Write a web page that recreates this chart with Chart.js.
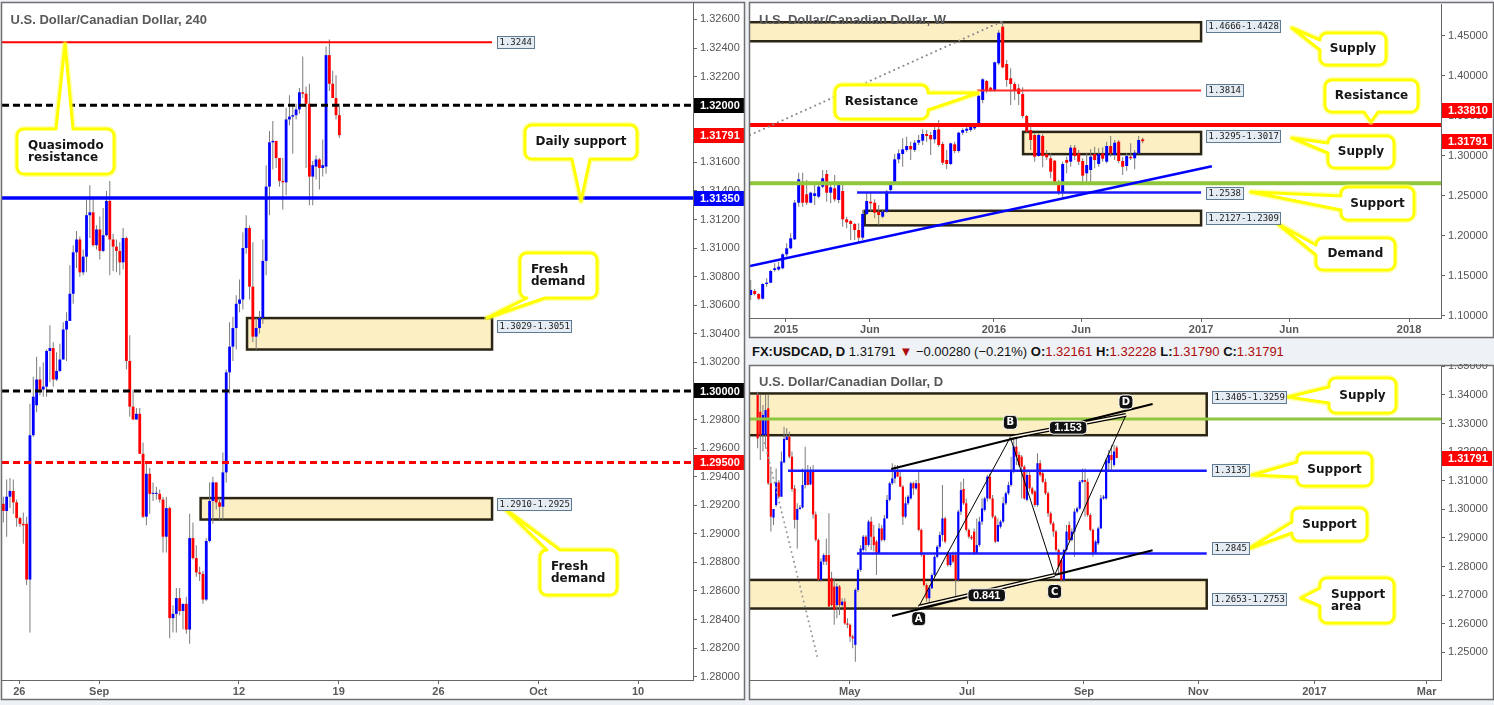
<!DOCTYPE html>
<html><head><meta charset="utf-8">
<script src="https://cdn.jsdelivr.net/npm/chart.js@4.4.1/dist/chart.umd.min.js"></script>
<style>
html,body{margin:0;padding:0;background:#eef1f5;width:1494px;height:705px;overflow:hidden;}
canvas{position:absolute;}
#hdr{position:absolute;left:752px;top:343px;font:13px "Liberation Sans",Arial,sans-serif;color:#111;white-space:nowrap;line-height:17px;}
#hdr b{font-weight:bold}
#hdr .r{color:#ad0b0b}
</style></head><body>
<canvas id="c4h" width="746" height="701" style="left:0;top:0"></canvas>
<canvas id="cw" width="746" height="340" style="left:748px;top:0"></canvas>
<canvas id="cd" width="746" height="338" style="left:748px;top:364px"></canvas>
<div id="hdr"><b>FX:USDCAD, D</b> 1.31791 <span class="r">▼</span> −0.00280 (−0.21%) <b>O:</b><span class="r">1.32161</span> <b>H:</b><span class="r">1.32228</span> <b>L:</b><span class="r">1.31790</span> <b>C:</b><span class="r">1.31791</span></div>
<script>
// ---------- 4H data ----------
const h4Open = [
1.2921,1.2916,1.2926,1.2930,1.2922,1.2911,1.2907,1.2907,1.2868,1.2969,
1.2990,1.3008,1.3001,1.3003,1.3028,1.3030,1.3008,1.3014,1.3022,1.3043,
1.3049,1.3068,1.3097,1.3106,1.3083,1.3094,1.3123,1.3125,1.3102,1.3113,
1.3098,1.3109,1.3133,1.3106,1.3101,1.3098,1.3090,1.3107,1.3021,1.2989,
1.2980,1.2984,1.2956,1.2912,1.2942,1.2928,1.2928,1.2928,1.2924,1.2898,
1.2918,1.2841,1.2844,1.2855,1.2846,1.2851,1.2833,1.2897,1.2883,1.2873,
1.2872,1.2854,1.2895,1.2923,1.2936,1.2922,1.2919,1.2943,1.3013,1.3031,
1.3044,1.3061,1.3064,1.3100,1.3114,1.3073,1.3038,1.3044,1.3051,1.3091,
1.3143,1.3174,1.3175,1.3163,1.3147,1.3146,1.3190,1.3192,1.3193,1.3197,
1.3209,1.3208,1.3201,1.3150,1.3157,1.3162,1.3156,1.3157,1.3235,1.3215,
1.3205,1.3193];
const h4High = [
1.2926,1.2938,1.2939,1.2938,1.2924,1.2912,1.2915,1.2912,1.2991,1.3010,
1.3024,1.3017,1.3020,1.3029,1.3046,1.3034,1.3027,1.3033,1.3048,1.3055,
1.3088,1.3102,1.3112,1.3108,1.3099,1.3134,1.3144,1.3135,1.3116,1.3122,
1.3128,1.3140,1.3147,1.3110,1.3106,1.3104,1.3114,1.3108,1.3039,1.3001,
1.2988,1.2988,1.2964,1.2950,1.2946,1.2936,1.2933,1.2931,1.2926,1.2926,
1.2919,1.2850,1.2862,1.2862,1.2851,1.2856,1.2914,1.2908,1.2892,1.2877,
1.2874,1.2897,1.2936,1.2940,1.2936,1.2925,1.2957,1.3015,1.3048,1.3052,
1.3067,1.3078,1.3111,1.3123,1.3116,1.3104,1.3051,1.3056,1.3106,1.3158,
1.3182,1.3189,1.3175,1.3163,1.3163,1.3198,1.3207,1.3201,1.3201,1.3212,
1.3234,1.3213,1.3215,1.3161,1.3165,1.3163,1.3176,1.3241,1.3246,1.3224,
1.3221,1.3201];
const h4Low = [
1.2908,1.2898,1.2918,1.2914,1.2905,1.2905,1.2893,1.2864,1.2831,1.2968,
1.2985,1.2997,1.2996,1.2996,1.3006,1.3003,1.3007,1.3013,1.3022,1.3021,
1.3049,1.3061,1.3086,1.3080,1.3081,1.3083,1.3107,1.3101,1.3099,1.3092,
1.3097,1.3108,1.3081,1.3084,1.3083,1.3081,1.3085,1.3015,1.2982,1.2980,
1.2980,1.2956,1.2911,1.2906,1.2914,1.2923,1.2924,1.2922,1.2887,1.2887,
1.2827,1.2831,1.2831,1.2843,1.2833,1.2830,1.2823,1.2882,1.2870,1.2867,
1.2851,1.2853,1.2894,1.2907,1.2917,1.2910,1.2910,1.2936,1.2998,1.3021,
1.3029,1.3055,1.3057,1.3096,1.3064,1.3034,1.3029,1.3040,1.3047,1.3081,
1.3123,1.3155,1.3156,1.3143,1.3127,1.3137,1.3186,1.3166,1.3190,1.3194,
1.3205,1.3156,1.3130,1.3130,1.3148,1.3141,1.3150,1.3152,1.3210,1.3205,
1.3190,1.3177];
const h4Close = [
1.2916,1.2926,1.2930,1.2922,1.2911,1.2907,1.2906,1.2868,1.2969,1.2996,
1.3008,1.3001,1.3003,1.3028,1.3030,1.3008,1.3014,1.3022,1.3043,1.3049,
1.3068,1.3097,1.3106,1.3083,1.3094,1.3123,1.3125,1.3102,1.3113,1.3098,
1.3109,1.3133,1.3106,1.3101,1.3098,1.3090,1.3107,1.3021,1.2989,1.2980,
1.2984,1.2956,1.2912,1.2942,1.2928,1.2928,1.2928,1.2924,1.2898,1.2918,
1.2841,1.2844,1.2855,1.2846,1.2851,1.2833,1.2897,1.2883,1.2873,1.2872,
1.2854,1.2895,1.2923,1.2936,1.2922,1.2919,1.2943,1.3013,1.3031,1.3044,
1.3061,1.3064,1.3100,1.3114,1.3073,1.3038,1.3044,1.3051,1.3091,1.3143,
1.3174,1.3175,1.3163,1.3147,1.3146,1.3190,1.3192,1.3193,1.3197,1.3209,
1.3208,1.3201,1.3150,1.3158,1.3162,1.3156,1.3158,1.3235,1.3215,1.3205,
1.3193,1.3179];
const h4XTicks = [5.8, 29.8, 71.8, 101.8, 131.8, 161.8, 191.8];
const h4XLabels = ['26','Sep','12','19','26','Oct','10'];
const h4YTicks = [1.280,1.282,1.284,1.286,1.288,1.290,1.292,1.294,1.296,1.298,1.300,1.302,1.304,1.306,1.308,1.310,1.312,1.314,1.316,1.318,1.320,1.322,1.324,1.326];

// ---------- Weekly data ----------
const wOpen = [
1.1256,1.1306,1.1269,1.1210,1.1394,1.1410,1.1569,1.1575,1.1590,1.1765,
1.1840,1.1952,1.2410,1.2673,1.2515,1.2410,1.2494,1.2485,1.2610,1.2769,
1.2535,1.2590,1.2444,1.2556,1.2202,1.2181,1.2144,1.2069,1.1973,1.2269,
1.2423,1.2410,1.2298,1.2235,1.2298,1.2569,1.2652,1.2952,1.3019,1.3069,
1.3119,1.3069,1.3160,1.3185,1.3269,1.3256,1.3202,1.3327,1.3144,1.2944,
1.2894,1.3140,1.3056,1.3285,1.3310,1.3319,1.3340,1.3361,1.3694,1.3931,
1.3848,1.3806,1.4152,1.4610,1.4144,1.3965,1.3894,1.3840,1.3769,1.3494,
1.3319,1.3256,1.2994,1.3244,1.3019,1.2965,1.2935,1.2652,1.2535,1.2944,
1.2923,1.3098,1.3027,1.2931,1.2777,1.2819,1.3019,1.2894,1.3027,1.2923,
1.3119,1.3006,1.3173,1.2931,1.2869,1.2985,1.2965,1.3027,1.3202];
const wHigh = [
1.1444,1.1330,1.1277,1.1402,1.1465,1.1569,1.1652,1.1673,1.1777,1.1902,
1.2027,1.2444,1.2785,1.2785,1.2694,1.2548,1.2631,1.2631,1.2819,1.2819,
1.2652,1.2756,1.2673,1.2652,1.2235,1.2194,1.2160,1.2152,1.2319,1.2540,
1.2527,1.2452,1.2381,1.2327,1.2569,1.2673,1.3019,1.3077,1.3215,1.3235,
1.3173,1.3194,1.3256,1.3327,1.3319,1.3298,1.3394,1.3444,1.3173,1.3069,
1.3160,1.3173,1.3298,1.3340,1.3381,1.3402,1.3402,1.3769,1.3965,1.3944,
1.3860,1.4173,1.4569,1.4673,1.4194,1.4090,1.3923,1.3894,1.3852,1.3506,
1.3381,1.3277,1.3277,1.3269,1.3069,1.3027,1.2944,1.2694,1.2923,1.2985,
1.3131,1.3131,1.3069,1.2965,1.3035,1.3077,1.3110,1.3090,1.3102,1.3173,
1.3244,1.3194,1.3194,1.2977,1.3027,1.3152,1.3069,1.3244,1.3223];
const wLow = [
1.1194,1.1250,1.1194,1.1200,1.1360,1.1402,1.1548,1.1560,1.1577,1.1735,
1.1827,1.1944,1.2360,1.2360,1.2381,1.2402,1.2381,1.2465,1.2590,1.2423,
1.2402,1.2423,1.2402,1.2110,1.2090,1.1944,1.1944,1.1910,1.1944,1.2256,
1.2298,1.2215,1.2131,1.2215,1.2285,1.2548,1.2644,1.2902,1.2860,1.3048,
1.2944,1.3048,1.3131,1.3131,1.3173,1.3006,1.3152,1.3110,1.2881,1.2827,
1.2881,1.3027,1.3035,1.3256,1.3277,1.3298,1.3319,1.3352,1.3652,1.3777,
1.3798,1.3798,1.4131,1.4090,1.3860,1.3631,1.3694,1.3631,1.3465,1.3277,
1.3069,1.2923,1.2985,1.2852,1.2944,1.2715,1.2631,1.2506,1.2465,1.2777,
1.2860,1.2944,1.2881,1.2652,1.2673,1.2673,1.2840,1.2860,1.2923,1.2902,
1.2985,1.2944,1.2902,1.2756,1.2810,1.2944,1.2827,1.3019,1.3152];
const wClose = [
1.1319,1.1269,1.1210,1.1394,1.1410,1.1556,1.1590,1.1610,1.1765,1.1840,
1.1965,1.2410,1.2702,1.2410,1.2410,1.2535,1.2527,1.2610,1.2715,1.2535,
1.2602,1.2452,1.2652,1.2202,1.2165,1.2144,1.2069,1.1973,1.2269,1.2431,
1.2402,1.2285,1.2256,1.2298,1.2548,1.2652,1.2952,1.3027,1.3077,1.3119,
1.3077,1.3160,1.3194,1.3269,1.3244,1.3202,1.3319,1.3131,1.2910,1.2894,
1.3152,1.3056,1.3285,1.3319,1.3335,1.3361,1.3390,1.3748,1.3952,1.3819,
1.3806,1.4165,1.4535,1.4102,1.3944,1.3894,1.3819,1.3769,1.3494,1.3298,
1.3194,1.2985,1.3256,1.2994,1.2977,1.2798,1.2652,1.2535,1.2894,1.2910,
1.3098,1.2994,1.2923,1.2748,1.2881,1.2985,1.2944,1.3019,1.2960,1.3119,
1.3027,1.3160,1.2931,1.2860,1.2994,1.2965,1.3035,1.3194,1.3179];
const wXTicks = [9.8, 30.8, 61.8, 83.6, 113.6, 135.6, 165.6];
const wXLabels = ['2015','Jun','2016','Jun','2017','Jun','2018'];
const wYTicks = [1.10,1.15,1.20,1.25,1.30,1.35,1.40,1.45];

// ---------- Daily data ----------
const dOpen = [
1.3400,1.3341,1.3260,1.3260,1.3353,1.3091,1.2971,1.3015,1.3094,1.3044,
1.3164,1.3242,1.3254,1.3184,1.3073,1.2963,1.3001,1.3006,1.3085,1.3137,
1.3087,1.3137,1.2982,1.2893,1.2753,1.2817,1.2840,1.2840,1.2759,1.2730,
1.2665,1.2730,1.2665,1.2677,1.2601,1.2596,1.2555,1.2526,1.2718,1.2788,
1.2858,1.2904,1.2875,1.2957,1.2904,1.2887,1.2846,1.2933,1.2893,1.2968,
1.3033,1.3091,1.3108,1.3137,1.3114,1.3079,1.2974,1.3021,1.3038,1.3091,
1.3073,1.3091,1.2928,1.2840,1.2735,1.2689,1.2724,1.2770,1.2834,1.2869,
1.2910,1.2968,1.2846,1.2805,1.2840,1.2840,1.2753,1.2992,1.3071,1.3021,
1.2928,1.2904,1.2922,1.2846,1.2875,1.2957,1.2998,1.3038,1.3114,1.3038,
1.2974,1.2887,1.2939,1.2957,1.3021,1.3056,1.3085,1.3132,1.3219,1.3190,
1.3184,1.3149,1.3033,1.3120,1.3073,1.3062,1.3015,1.3161,1.3126,1.3096,
1.3056,1.2986,1.2951,1.2922,1.2858,1.2823,1.2753,1.2858,1.2945,1.2893,
1.2922,1.2992,1.3003,1.3096,1.3102,1.3096,1.2980,1.2928,1.2846,1.2881,
1.2933,1.3038,1.3038,1.3161,1.3190,1.3155,1.3216];
const dHigh = [
1.3411,1.3400,1.3365,1.3400,1.3400,1.3143,1.3001,1.3143,1.3102,1.3202,
1.3289,1.3283,1.3271,1.3202,1.3085,1.3021,1.3015,1.3143,1.3219,1.3155,
1.3149,1.3155,1.2992,1.2898,1.2829,1.2846,1.2898,1.2986,1.2782,1.2759,
1.2741,1.2735,1.2689,1.2689,1.2619,1.2601,1.2561,1.2724,1.2794,1.2875,
1.2910,1.2910,1.2963,1.2974,1.2945,1.2893,1.2951,1.2945,1.2980,1.3050,
1.3096,1.3161,1.3155,1.3155,1.3137,1.3085,1.3044,1.3050,1.3096,1.3096,
1.3102,1.3132,1.2933,1.2846,1.2741,1.2735,1.2776,1.2840,1.2875,1.2922,
1.3085,1.2974,1.2852,1.2846,1.2852,1.2852,1.2998,1.3096,1.3108,1.3038,
1.2933,1.2910,1.2933,1.2968,1.2974,1.3038,1.3044,1.3120,1.3126,1.3050,
1.2980,1.2968,1.2963,1.3044,1.3062,1.3096,1.3184,1.3260,1.3254,1.3202,
1.3190,1.3155,1.3132,1.3132,1.3079,1.3067,1.3196,1.3172,1.3132,1.3108,
1.3062,1.2992,1.2957,1.2928,1.2863,1.2829,1.2863,1.2945,1.2957,1.2933,
1.3003,1.3009,1.3102,1.3143,1.3143,1.3108,1.2986,1.2933,1.2893,1.2939,
1.3050,1.3050,1.3178,1.3207,1.3225,1.3225,1.3223];
const dLow = [
1.3213,1.3172,1.3202,1.3213,1.3085,1.2922,1.2945,1.3009,1.3038,1.3044,
1.3161,1.3242,1.3178,1.3062,1.2933,1.2863,1.2998,1.3003,1.3073,1.3085,
1.3085,1.2968,1.2887,1.2747,1.2747,1.2805,1.2805,1.2654,1.2660,1.2596,
1.2619,1.2630,1.2660,1.2596,1.2584,1.2537,1.2514,1.2467,1.2712,1.2782,
1.2852,1.2852,1.2869,1.2858,1.2852,1.2770,1.2846,1.2887,1.2887,1.2968,
1.3027,1.3085,1.3091,1.3114,1.3079,1.2945,1.2968,1.3015,1.3033,1.3050,
1.3067,1.2922,1.2834,1.2730,1.2677,1.2665,1.2721,1.2764,1.2829,1.2863,
1.2887,1.2881,1.2799,1.2799,1.2811,1.2677,1.2747,1.2980,1.3015,1.2922,
1.2898,1.2893,1.2840,1.2846,1.2869,1.2945,1.2992,1.3027,1.3033,1.2968,
1.2881,1.2887,1.2933,1.2951,1.3015,1.3050,1.3079,1.3126,1.3155,1.3149,
1.3038,1.3033,1.3027,1.3062,1.3050,1.3009,1.3009,1.3114,1.3091,1.3050,
1.2974,1.2945,1.2904,1.2852,1.2770,1.2747,1.2747,1.2852,1.2887,1.2887,
1.2834,1.2986,1.2998,1.3091,1.2974,1.2974,1.2922,1.2834,1.2846,1.2875,
1.2933,1.3033,1.3033,1.3132,1.3132,1.3149,1.3179];
const dClose = [
1.3248,1.3260,1.3330,1.3347,1.3091,1.2974,1.3001,1.3094,1.3044,1.3167,
1.3246,1.3254,1.3184,1.3071,1.2963,1.3001,1.3006,1.3085,1.3137,1.3085,
1.3137,1.2982,1.2893,1.2753,1.2817,1.2840,1.2817,1.2660,1.2665,1.2648,
1.2730,1.2665,1.2677,1.2601,1.2596,1.2555,1.2549,1.2718,1.2788,1.2863,
1.2904,1.2875,1.2957,1.2904,1.2875,1.2846,1.2933,1.2893,1.2968,1.3033,
1.3091,1.3108,1.3137,1.3114,1.3079,1.2974,1.3021,1.3044,1.3091,1.3073,
1.3091,1.2928,1.2840,1.2735,1.2689,1.2724,1.2770,1.2834,1.2869,1.2910,
1.2968,1.2887,1.2805,1.2840,1.2817,1.2753,1.2992,1.3067,1.3021,1.2928,
1.2904,1.2898,1.2846,1.2875,1.2957,1.3003,1.3038,1.3114,1.3038,1.2974,
1.2887,1.2945,1.2957,1.3021,1.3056,1.3085,1.3132,1.3219,1.3184,1.3155,
1.3149,1.3038,1.3120,1.3073,1.3056,1.3015,1.3161,1.3120,1.3096,1.3056,
1.2986,1.2951,1.2922,1.2858,1.2799,1.2753,1.2858,1.2922,1.2893,1.2922,
1.2992,1.3003,1.3096,1.3102,1.3096,1.2980,1.2928,1.2846,1.2887,1.2933,
1.3038,1.3044,1.3172,1.3190,1.3172,1.3202,1.3179];
const dXTicks = [35.9, 80.3, 124.6, 167.9, 211.9, 254.4];
const dXLabels = ['May','Jul','Sep','Nov','2017','Mar'];
const dYTicks = [1.25,1.26,1.27,1.28,1.29,1.30,1.31,1.32,1.33,1.34,1.35];

// ---------- drawing helpers ----------
function labelBox(c, x, yc, text) {
  c.save();
  c.font = '9px "DejaVu Sans Mono", monospace';
  const tw = c.measureText(text).width;
  const w = Math.round(tw + 5), h = 13, y = Math.round(yc - h / 2);
  c.fillStyle = '#e5ecf3'; c.fillRect(x, y, w, h);
  c.strokeStyle = '#5f7b94'; c.lineWidth = 1; c.strokeRect(x + .5, y + .5, w - 1, h - 1);
  c.fillStyle = '#1c1c1c'; c.textBaseline = 'middle'; c.textAlign = 'left';
  c.fillText(text, x + 2.5, y + h / 2 + .5);
  c.restore();
}
function calloutPath(c, o, ox, oy) {
  const x = o.x - ox, y = o.y - oy, w = o.w, h = o.h, r = 7;
  const tx = o.tip[0] - ox, ty = o.tip[1] - oy;
  const horiz = o.side === 'top' || o.side === 'bottom';
  const b1 = o.b[0] - (horiz ? ox : oy), b2 = o.b[1] - (horiz ? ox : oy);
  c.beginPath();
  c.moveTo(x + r, y);
  if (o.side === 'top') { c.lineTo(b1, y); c.lineTo(tx, ty); c.lineTo(b2, y); }
  c.lineTo(x + w - r, y); c.arcTo(x + w, y, x + w, y + r, r);
  if (o.side === 'right') { c.lineTo(x + w, b1); c.lineTo(tx, ty); c.lineTo(x + w, b2); }
  c.lineTo(x + w, y + h - r); c.arcTo(x + w, y + h, x + w - r, y + h, r);
  if (o.side === 'bottom') { c.lineTo(b2, y + h); c.lineTo(tx, ty); c.lineTo(b1, y + h); }
  c.lineTo(x + r, y + h); c.arcTo(x, y + h, x, y + h - r, r);
  if (o.side === 'left') { c.lineTo(x, b2); c.lineTo(tx, ty); c.lineTo(x, b1); }
  c.lineTo(x, y + r); c.arcTo(x, y, x + r, y, r);
  c.closePath();
}
function drawCallout(c, o, ox, oy) {
  c.save();
  c.lineJoin = 'round';
  calloutPath(c, o, ox, oy);
  c.strokeStyle = 'rgba(255,255,80,0.45)'; c.lineWidth = 6; c.stroke();
  c.fillStyle = '#fff'; c.fill();
  c.strokeStyle = '#ffff00'; c.lineWidth = 3; c.stroke();
  c.fillStyle = '#151515'; c.font = 'bold 12px "DejaVu Sans", sans-serif'; c.textBaseline = 'middle';
  const n = o.lines.length, cy = o.y - oy + o.h / 2;
  o.lines.forEach((t, i) => {
    const yy = cy + (i - (n - 1) / 2) * 12;
    if (o.align === 'left') { c.textAlign = 'left'; c.fillText(t, o.x - ox + 11, yy); }
    else { c.textAlign = 'center'; c.fillText(t, o.x - ox + o.w / 2, yy); }
  });
  c.restore();
}
function roundRect(c, x, y, w, h, r) {
  c.beginPath(); c.moveTo(x + r, y); c.arcTo(x + w, y, x + w, y + h, r); c.arcTo(x + w, y + h, x, y + h, r);
  c.arcTo(x, y + h, x, y, r); c.arcTo(x, y, x + w, y, r); c.closePath();
}

function annot(P) {
  const ox = P.off[0], oy = P.off[1];
  return {
    id: 'annot',
    beforeDraw(ch) {
      const c = ch.ctx; c.save(); c.fillStyle = '#fff';
      c.fillRect(P.frame[0], P.frame[1], P.frame[2], P.frame[3]); c.restore();
    },
    beforeDatasetsDraw(ch) {
      const c = ch.ctx, a = ch.chartArea, X = v => ch.scales.x.getPixelForValue(v), Y = v => ch.scales.y.getPixelForValue(v);
      c.save(); c.beginPath(); c.rect(a.left, a.top, a.right - a.left, a.bottom - a.top); c.clip();
      for (const z of P.zones) {
        const x0 = z.x0 == null ? a.left - 3 : X(z.x0), x1 = X(z.x1), y0 = Y(z.hi), y1 = Y(z.lo);
        c.fillStyle = '#fdefc4'; c.fillRect(x0, y0, x1 - x0, y1 - y0);
        c.lineWidth = 2.5; c.strokeStyle = '#2b2516'; c.strokeRect(x0, y0, x1 - x0, y1 - y0);
      }
      c.restore();
    },
    afterDatasetsDraw(ch) {
      const c = ch.ctx, a = ch.chartArea, X = v => ch.scales.x.getPixelForValue(v), Y = v => ch.scales.y.getPixelForValue(v);
      c.save(); c.beginPath(); c.rect(a.left, a.top, a.right - a.left, a.bottom - a.top); c.clip();
      for (const l of P.lines) {
        const x0 = l.x0 == null ? a.left : X(l.x0), x1 = l.x1 == null ? a.right : X(l.x1), y = Y(l.p);
        c.beginPath(); c.moveTo(x0, y); c.lineTo(x1, y);
        c.strokeStyle = l.color; c.lineWidth = l.w; c.setLineDash(l.dash || []); c.stroke();
      }
      c.setLineDash([]);
      for (const s of P.segs) {
        c.beginPath(); c.moveTo(X(s.x0), Y(s.p0)); c.lineTo(X(s.x1), Y(s.p1));
        c.setLineDash(s.dash || []); c.lineCap = s.dash ? 'round' : 'butt';
        if (s.dbl) {
          c.strokeStyle = s.color; c.lineWidth = 4; c.stroke();
          c.strokeStyle = '#fff8e0'; c.lineWidth = 1.6; c.stroke();
        } else { c.strokeStyle = s.color; c.lineWidth = s.w; c.stroke(); }
      }
      c.setLineDash([]);
      c.restore();
      // ratio labels and point letters
      c.save();
      for (const r of P.ratios) {
        const cx = (X(r.x0) + X(r.x1)) / 2, cy = (Y(r.p0) + Y(r.p1)) / 2 + r.dy;
        c.font = 'bold 11px "Liberation Sans", sans-serif';
        const w = c.measureText(r.t).width + 10;
        roundRect(c, cx - w / 2, cy - 6.5, w, 13, 4);
        c.fillStyle = '#111'; c.fill(); c.strokeStyle = '#fff'; c.lineWidth = 1; c.stroke();
        c.fillStyle = '#fff'; c.textAlign = 'center'; c.textBaseline = 'middle'; c.fillText(r.t, cx, cy + .5);
      }
      for (const m of P.marks) {
        const cx = X(m.x), cy = Y(m.p) + m.dy;
        roundRect(c, cx - 7, cy - 7, 14, 14, 4);
        c.fillStyle = '#111'; c.fill(); c.strokeStyle = '#fff'; c.lineWidth = 1; c.stroke();
        c.fillStyle = '#fff'; c.font = 'bold 10px "DejaVu Sans", sans-serif'; c.textAlign = 'center'; c.textBaseline = 'middle';
        c.fillText(m.t, cx, cy + .5);
      }
      c.restore();
      // title
      c.save();
      c.font = 'bold 13px "Liberation Sans", Arial, sans-serif'; c.fillStyle = '#58595b';
      c.textBaseline = 'middle'; c.textAlign = 'left';
      c.fillText(P.title.text, P.title.x, P.title.y);
      c.restore();
      for (const o of P.callouts) drawCallout(c, o, ox, oy);
      // price labels of zones and lines (on top of callout pointers)
      for (const z of P.zones) labelBox(c, Math.round(X(z.x1) + 5), Y(z.lp), z.label);
      for (const l of P.lines) if (l.label) labelBox(c, Math.round(X(l.x1) + 5), Y(l.lp == null ? l.p : l.lp), l.label);
      // highlighted axis labels
      c.save();
      for (const h of P.highlights) {
        const y = Y(h.p) + (h.dy || 0);
        c.fillStyle = h.bg; c.fillRect(a.right + 1, Math.round(y - 7.5), P.W - a.right - 3, 15);
        c.fillStyle = '#fff'; c.font = 'bold 11px "Liberation Sans", Arial, sans-serif';
        c.textAlign = 'left'; c.textBaseline = 'middle'; c.fillText(h.p.toFixed(5), a.right + 7, Math.round(y) + .5);
      }
      c.restore();
    },
    afterDraw(ch) {
      const c = ch.ctx; c.save(); c.strokeStyle = '#707070'; c.lineWidth = 1.5;
      c.strokeRect(P.frame[0] + .5, P.frame[1] + .5, P.frame[2] - 1, P.frame[3] - 1); c.restore();
    }
  };
}

function makePanel(P) {
  const idx = P.open.map((_, i) => i + 1);
  const wick = idx.map((x, i) => ({x, y: [P.low[i], P.high[i]]}));
  const body = idx.map((x, i) => ({x, y: [P.open[i], P.close[i]]}));
  const cols = idx.map((x, i) => P.close[i] >= P.open[i] ? '#0000ff' : '#ff0000');
  const axisFont = {family: '"Liberation Sans", Arial, sans-serif', size: 11};
  new Chart(document.getElementById(P.id), {
    type: 'bar',
    data: {datasets: [
      {data: wick, backgroundColor: '#7b7b7b', barThickness: 1, grouped: false, order: 2, inflateAmount: 0, borderWidth: 0},
      {data: body, backgroundColor: cols, barThickness: P.bodyW, grouped: false, order: 1, inflateAmount: 0, borderWidth: 0, minBarLength: 1}
    ]},
    options: {
      responsive: false, animation: false, devicePixelRatio: 1, events: [],
      layout: {padding: {left: P.area.left, top: P.area.top, right: 0, bottom: 0}},
      plugins: {legend: {display: false}, tooltip: {enabled: false}, title: {display: false}},
      scales: {
        x: {type: 'linear', min: P.xMin, max: P.xMax, offset: false,
          grid: {display: true, drawOnChartArea: false, drawTicks: true, tickLength: 4, color: '#666', offset: false},
          border: {display: true, color: '#666', width: 1},
          ticks: {autoSkip: false, maxRotation: 0, padding: 1, color: '#5a5a5a', font: Object.assign({weight: 'bold'}, axisFont),
            callback: (v, i) => P.xLabels[i]},
          afterBuildTicks: s => { s.ticks = P.xTicks.map(v => ({value: v})); },
          afterFit: s => { s.height = P.H - P.area.bottom; s.paddingLeft = 0; s.paddingRight = 0; }
        },
        y: {type: 'linear', position: 'right', min: P.yMin, max: P.yMax,
          grid: {display: true, drawOnChartArea: false, drawTicks: true, tickLength: 4, color: '#666'},
          border: {display: true, color: '#666', width: 1},
          ticks: {autoSkip: false, padding: 3, color: '#555', font: axisFont, callback: v => Number(v).toFixed(5)},
          afterBuildTicks: s => { s.ticks = P.yTicks.map(v => ({value: v})); },
          afterFit: s => { s.width = P.W - P.area.right; s.paddingTop = 0; s.paddingBottom = 0; }
        }
      }
    },
    plugins: [annot(P)]
  });
}

makePanel({
  id: 'c4h', W: 746, H: 701, off: [0, 0], area: {left: 2, top: 3, right: 693, bottom: 680}, frame: [1, 2, 744, 698],
  open: h4Open, high: h4High, low: h4Low, close: h4Close, bodyW: 2.8,
  xMin: 0.6, xMax: 208.3, yMin: 1.27977, yMax: 1.32715,
  xTicks: h4XTicks, xLabels: h4XLabels, yTicks: h4YTicks,
  title: {text: 'U.S. Dollar/Canadian Dollar, 240', x: 10.5, y: 20},
  zones: [
    {x0: 74.25, x1: 147.9, lo: 1.3029, hi: 1.3051, label: '1.3029-1.3051', lp: 1.30453},
    {x0: 60.3, x1: 147.9, lo: 1.2910, hi: 1.2925, label: '1.2910-1.2925', lp: 1.29208}],
  lines: [
    {p: 1.3244, x1: 147.9, color: '#ff0000', w: 2, label: '1.3244'},
    {p: 1.3200, color: '#000', w: 3, dash: [7, 4]},
    {p: 1.3135, color: '#0000ff', w: 3.5},
    {p: 1.3000, color: '#000', w: 3, dash: [7, 4]},
    {p: 1.2950, color: '#ff0000', w: 3, dash: [7, 4]}],
  segs: [], ratios: [], marks: [],
  callouts: [
    {x: 17, y: 129, w: 97, h: 45, side: 'top', b: [56, 73], tip: [65, 44], lines: ['Quasimodo', 'resistance'], align: 'left'},
    {x: 525, y: 125, w: 112, h: 34, side: 'bottom', b: [572, 590], tip: [581, 201], lines: ['Daily support']},
    {x: 520, y: 253, w: 77, h: 45, side: 'bottom', b: [527, 545], tip: [487, 318], lines: ['Fresh', 'demand'], align: 'left'},
    {x: 540, y: 550, w: 77, h: 45, side: 'top', b: [547, 560], tip: [505, 509], lines: ['Fresh', 'demand'], align: 'left'}],
  highlights: [
    {p: 1.3200, bg: '#000'}, {p: 1.31791, bg: '#ff0000'}, {p: 1.3135, bg: '#0000ff'},
    {p: 1.3000, bg: '#000'}, {p: 1.2950, bg: '#ff0000'}]
});

makePanel({
  id: 'cw', W: 746, H: 340, off: [748, 0], area: {left: 2, top: 4, right: 693, bottom: 318}, frame: [1, 2, 745, 336],
  open: wOpen, high: wHigh, low: wLow, close: wClose, bodyW: 3,
  xMin: 0.83, xMax: 173.58, yMin: 1.096875, yMax: 1.489375,
  xTicks: wXTicks, xLabels: wXLabels, yTicks: wYTicks,
  title: {text: 'U.S. Dollar/Canadian Dollar, W', x: 11, y: 20},
  zones: [
    {x0: null, x1: 113.6, lo: 1.4428, hi: 1.4666, label: '1.4666-1.4428', lp: 1.46063},
    {x0: 69.1, x1: 113.6, lo: 1.3017, hi: 1.3295, label: '1.3295-1.3017', lp: 1.32313},
    {x0: 29.5, x1: 113.6, lo: 1.2127, hi: 1.2309, label: '1.2127-1.2309', lp: 1.2210}],
  lines: [
    {p: 1.3814, x0: 57.6, x1: 113.6, color: '#ff2a2a', w: 2, label: '1.3814'},
    {p: 1.3381, color: '#ff0000', w: 4},
    {p: 1.2653, color: '#8fc63c', w: 4},
    {p: 1.2538, x0: 27.6, x1: 113.6, color: '#1a1aff', w: 2.5, label: '1.2538', lp: 1.2519}],
  segs: [
    {x0: 0.83, p0: 1.1617, x1: 116.3, p1: 1.2866, color: '#0000ff', w: 2.5},
    {x0: 0.83, p0: 1.3256, x1: 63.65, p1: 1.4673, color: '#8a8a8a', w: 2, dash: [0.1, 5]}],
  ratios: [], marks: [],
  callouts: [
    {x: 835, y: 85, w: 93, h: 34, side: 'right', b: [93, 110], tip: [978, 93], lines: ['Resistance']},
    {x: 1320, y: 33, w: 66, h: 32, side: 'left', b: [40, 50], tip: [1292, 28], lines: ['Supply']},
    {x: 1325, y: 80, w: 93, h: 32, side: 'bottom', b: [1364, 1378], tip: [1371, 122], lines: ['Resistance']},
    {x: 1328, y: 136, w: 66, h: 32, side: 'left', b: [143, 153], tip: [1292, 138], lines: ['Supply']},
    {x: 1341, y: 187, w: 73, h: 33, side: 'left', b: [196, 210], tip: [1251, 192], lines: ['Support']},
    {x: 1316, y: 238, w: 79, h: 32, side: 'left', b: [245, 255], tip: [1278, 224], lines: ['Demand']}],
  highlights: [{p: 1.3381, bg: '#ff0000', dy: -15}, {p: 1.31791, bg: '#ff0000'}]
});

makePanel({
  id: 'cd', W: 746, H: 338, off: [748, 364], area: {left: 2, top: 2, right: 693, bottom: 316}, frame: [1, 1, 745, 335],
  open: dOpen, high: dHigh, low: dLow, close: dClose, bodyW: 2.2,
  xMin: -1.9, xMax: 259.84, yMin: 1.24031, yMax: 1.35010,
  xTicks: dXTicks, xLabels: dXLabels, yTicks: dYTicks,
  title: {text: 'U.S. Dollar/Canadian Dollar, D', x: 11, y: 18.5},
  zones: [
    {x0: null, x1: 171.1, lo: 1.3259, hi: 1.3405, label: '1.3405-1.3259', lp: 1.33916},
    {x0: null, x1: 171.1, lo: 1.2653, hi: 1.2753, label: '1.2653-1.2753', lp: 1.26829}],
  lines: [
    {p: 1.3316, color: '#8dc63f', w: 3},
    {p: 1.3135, x0: 12.5, x1: 171.1, color: '#1a1aff', w: 2.5, label: '1.3135'},
    {p: 1.2845, x0: 38.6, x1: 171.1, color: '#1a1aff', w: 2.5, label: '1.2845', lp: 1.28636}],
  segs: [
    {x0: 3.67, p0: 1.32318, x1: 23.9, p1: 1.2473, color: '#999', w: 2, dash: [0.1, 5]},
    {x0: 51.6, p0: 1.31409, x1: 150.6, p1: 1.33682, color: '#000', w: 2},
    {x0: 51.9, p0: 1.26269, x1: 150.6, p1: 1.28566, color: '#000', w: 2},
    {x0: 62.0, p0: 1.26594, x1: 96.7, p1: 1.32517, color: '#000', w: 1},
    {x0: 96.7, p0: 1.32517, x1: 113.5, p1: 1.27703, color: '#000', w: 1},
    {x0: 113.5, p0: 1.27703, x1: 140.5, p1: 1.33297, color: '#000', w: 1},
    {x0: 62.0, p0: 1.26594, x1: 113.5, p1: 1.27703, color: '#000', w: 1, dbl: true},
    {x0: 96.7, p0: 1.32517, x1: 140.5, p1: 1.33297, color: '#000', w: 1, dbl: true}],
  ratios: [
    {x0: 62.0, p0: 1.26594, x1: 113.5, p1: 1.27703, t: '0.841', dy: 4.5},
    {x0: 96.7, p0: 1.32517, x1: 140.5, p1: 1.33297, t: '1.153', dy: 1.5}],
  marks: [
    {x: 62.0, p: 1.26594, t: 'A', dy: 12},
    {x: 96.7, p: 1.32517, t: 'B', dy: -15},
    {x: 113.5, p: 1.27703, t: 'C', dy: 16.5},
    {x: 140.5, p: 1.33297, t: 'D', dy: -13}],
  callouts: [
    {x: 1329, y: 378, w: 67, h: 35, side: 'left', b: [387, 403], tip: [1288, 397], lines: ['Supply']},
    {x: 1297, y: 453, w: 75, h: 33, side: 'left', b: [462, 477], tip: [1252, 475], lines: ['Support']},
    {x: 1292, y: 508, w: 75, h: 33, side: 'left', b: [522, 533], tip: [1248, 549], lines: ['Support']},
    {x: 1320, y: 578, w: 74, h: 45, side: 'left', b: [588, 606], tip: [1301, 598], lines: ['Support', 'area'], align: 'left'}],
  highlights: [{p: 1.31791, bg: '#ff0000'}]
});
</script>
</body></html>
